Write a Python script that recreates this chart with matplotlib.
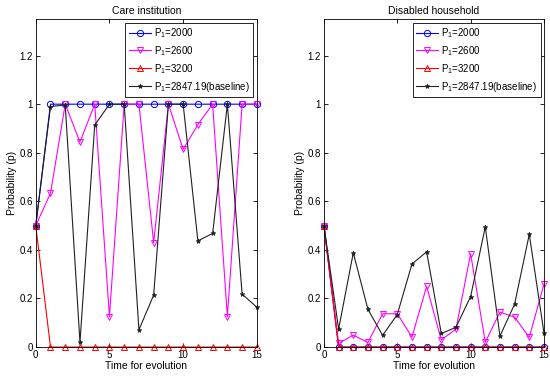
import numpy as np
import matplotlib
matplotlib.use('Agg')
import matplotlib.pyplot as plt

plt.rcParams['font.family'] = ['Liberation Sans', 'DejaVu Sans']
plt.rcParams['mathtext.fontset'] = 'custom'
plt.rcParams['mathtext.rm'] = 'Liberation Sans'
plt.rcParams['mathtext.it'] = 'Liberation Sans'

t = np.arange(16)

labels = ['$\\mathrm{P_1}$=2000', '$\\mathrm{P_1}$=2600', '$\\mathrm{P_1}$=3200',
          '$\\mathrm{P_1}$=2847.19(baseline)']

# Care institution
care_2000 = [0.5, 1, 1, 1, 1, 1, 1, 1, 1, 1, 1, 1, 1, 1, 1, 1]
care_2600 = [0.5, 0.633, 1, 0.844, 1, 0.125, 1, 1, 0.43, 1, 0.814, 0.916, 1, 0.125, 1, 1]
care_3200 = [0.5, 0, 0, 0, 0, 0, 0, 0, 0, 0, 0, 0, 0, 0, 0, 0]
care_base = [0.5, 0.99, 0.997, 0.019, 0.914, 1, 1, 0.071, 0.214, 1, 1, 0.437, 0.468, 1, 0.218, 0.164]

# Disabled household
dis_2000 = [0.5, 0, 0, 0, 0, 0, 0, 0, 0, 0, 0, 0, 0, 0, 0, 0]
dis_2600 = [0.5, 0.015, 0.049, 0.019, 0.137, 0.137, 0.041, 0.25, 0.029, 0.074, 0.384, 0.02, 0.144, 0.123, 0.04, 0.259]
dis_3200 = [0.5, 0, 0, 0, 0, 0, 0, 0, 0, 0, 0, 0, 0, 0, 0, 0]
dis_base = [0.5, 0.074, 0.388, 0.155, 0.048, 0.134, 0.342, 0.392, 0.056, 0.081, 0.208, 0.495, 0.045, 0.177, 0.464, 0.059]

panels = [('Care institution', care_2000, care_2600, care_3200, care_base),
          ('Disabled household', dis_2000, dis_2600, dis_3200, dis_base)]

fig = plt.figure(figsize=(5.5, 3.76), dpi=100)
rects = [[0.065, 0.077, 0.402, 0.872], [0.589, 0.077, 0.400, 0.872]]

for rect, (title, s1, s2, s3, s4) in zip(rects, panels):
    ax = fig.add_axes(rect)
    ax.plot(t, s1, color='#0000ff', marker='o', mfc='none', ms=4.5, lw=0.8, mew=0.7,
            label=labels[0], clip_on=False)
    ax.plot(t, s2, color='#ff00ff', marker='v', mfc='none', ms=5, lw=0.8, mew=0.7,
            label=labels[1], clip_on=False)
    ax.plot(t, s3, color='#ff0000', marker='^', mfc='none', ms=5, lw=0.8, mew=0.7,
            label=labels[2], clip_on=False)
    ax.plot(t, s4, color='#202020', marker='*', ms=3.5, lw=0.8, mew=0.5,
            label=labels[3], clip_on=False)
    ax.set_xlim(0, 15)
    ax.set_ylim(0, 1.35)
    ax.set_xticks([0, 5, 10, 15])
    ax.set_yticks([0, 0.2, 0.4, 0.6, 0.8, 1, 1.2])
    ax.set_yticklabels(['0', '0.2', '0.4', '0.6', '0.8', '1', '1.2'])
    ax.tick_params(direction='in', top=True, right=True, labelsize=7, length=3, width=0.6, pad=2)
    for sp in ax.spines.values():
        sp.set_linewidth(0.6)
    ax.set_title(title, fontsize=7.5, pad=4)
    ax.set_xlabel('Time for evolution', fontsize=7.5, labelpad=1)
    ax.set_ylabel('Probability (p)', fontsize=7.5, labelpad=2)
    leg = ax.legend(loc='upper right', fontsize=7, handlelength=2.3, fancybox=False,
                    framealpha=1, edgecolor='black', borderpad=0.35, labelspacing=0.42,
                    handletextpad=0.3, borderaxespad=0.35)
    leg.get_frame().set_linewidth(0.6)

fig.savefig('out.png', dpi=100)
